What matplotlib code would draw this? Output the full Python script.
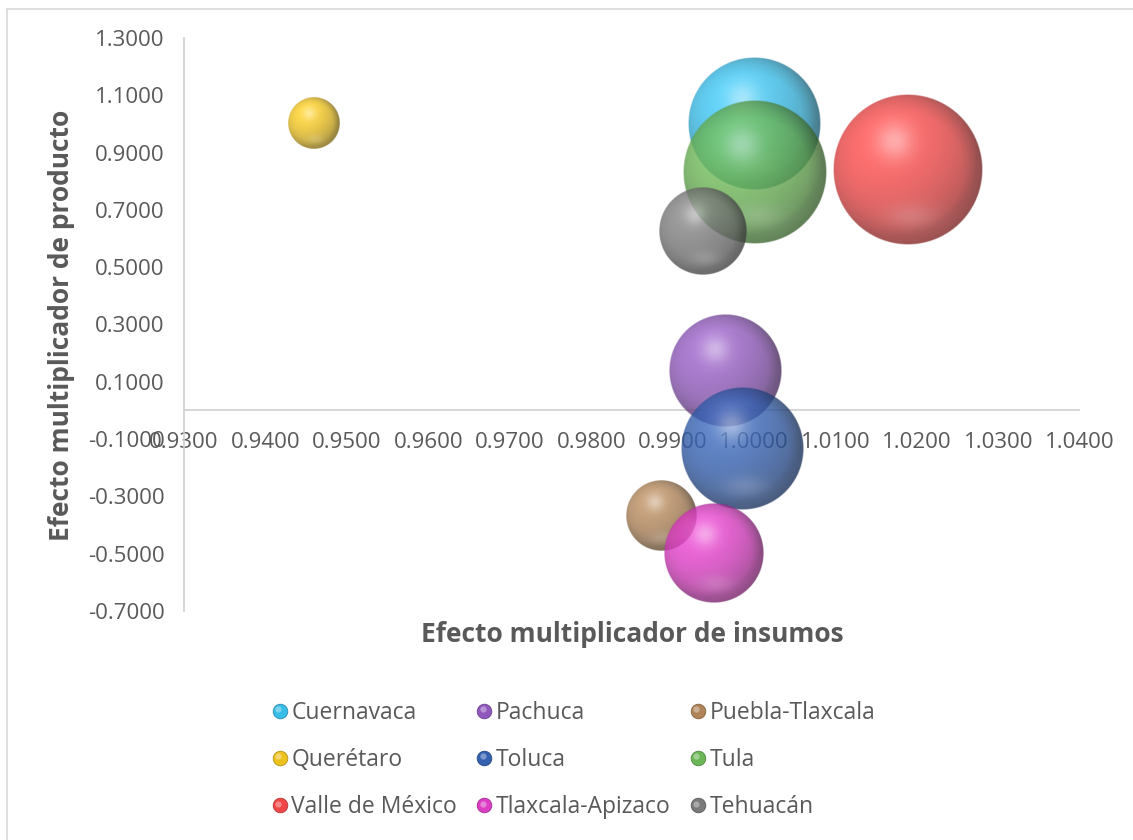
import numpy as np
import matplotlib
matplotlib.use("Agg")
import matplotlib.pyplot as plt
from matplotlib.lines import Line2D
from matplotlib.legend_handler import HandlerBase
from matplotlib.colors import to_rgb

# ---- data -------------------------------------------------------------
zonas = ["Cuernavaca", "Pachuca", "Puebla-Tlaxcala", "Querétaro", "Toluca",
         "Tula", "Valle de México", "Tlaxcala-Apizaco", "Tehuacán"]
efecto_insumos = [1.0000, 0.9964, 0.9886, 0.9459, 0.9986,
                  1.0000, 1.0189, 0.9951, 0.9937]
efecto_producto = [1.0016, 0.1390, -0.3650, 1.0000, -0.1346,
                   0.8305, 0.8390, -0.4990, 0.6280]
tamano = [78.6, 55.8, 22.4, 11.6, 67.2, 90.9, 100.0, 44.4, 34.4]
colores = ["#38BCE8", "#9058BC", "#B08458", "#EEC21E", "#3460B0",
           "#6CB656", "#F04646", "#DC3CC4", "#7A7A7A"]

x_ticks = [0.93, 0.94, 0.95, 0.96, 0.97, 0.98, 0.99, 1.00, 1.01, 1.02, 1.03, 1.04]
y_ticks = [1.3, 1.1, 0.9, 0.7, 0.5, 0.3, 0.1, -0.1, -0.3, -0.5, -0.7]

TXT = "#595959"
LINE = "#D0D0D0"
FONT = "Open Sans"
TICK_FS = 16

W, H, DPI = 1133, 840, 100
fig = plt.figure(figsize=(W / DPI, H / DPI), dpi=DPI)
ax = fig.add_axes([184 / W, 1 - 611 / H, (1080 - 184) / W, (611 - 38) / H])
ax.set_xlim(0.93, 1.04)
ax.set_ylim(-0.7, 1.3)

# axes: vertical axis at the left, horizontal axis crossing at y = 0
for s in ["top", "right", "bottom"]:
    ax.spines[s].set_visible(False)
ax.spines["left"].set_color(LINE)
ax.spines["left"].set_linewidth(1.2)
ax.axhline(0, color=LINE, lw=1.2, zorder=1)
ax.tick_params(length=0)
ax.set_yticks(y_ticks)
ax.set_yticklabels([f"{v:.4f}" for v in y_ticks], fontsize=TICK_FS,
                   color=TXT, family=FONT)
ax.tick_params(axis="y", pad=14)
ax.set_xticks([])
for v in x_ticks:
    ax.text(v, -0.112, f"{v:.4f}", ha="center", va="center",
            fontsize=TICK_FS, color=TXT, family=FONT, zorder=2)

fig.text(632 / W, 1 - 635 / H, "Efecto multiplicador de insumos",
         ha="center", va="center", fontsize=19, fontweight="bold",
         color=TXT, family=FONT)
fig.text(62 / W, 1 - 325 / H, "Efecto multiplicador de producto",
         ha="center", va="center", rotation=90, fontsize=19,
         fontweight="bold", color=TXT, family=FONT)


def sphere_image(color, n=220, alpha=0.8):
    """RGBA image of a glossy shaded ball."""
    base = np.array(to_rgb(color))
    lin = np.linspace(-1, 1, n)
    u, v = np.meshgrid(lin, -lin)
    r2 = u ** 2 + v ** 2
    inside = r2 <= 1.0
    z = np.sqrt(np.clip(1 - r2, 0, 1))
    L = np.array([-0.35, 0.45, 0.82])
    L = L / np.linalg.norm(L)
    diff = np.clip(u * L[0] + v * L[1] + z * L[2], 0, 1)
    shade = 0.66 + 0.42 * diff
    rgb = base[None, None, :] * shade[..., None]
    # soft highlight on the upper left
    hl = np.exp(-(((u + 0.18) ** 2) + ((v - 0.38) ** 2)) / 0.06)
    rgb = rgb + (1 - rgb) * (0.42 * hl)[..., None]
    # faint reflection near the lower rim
    rf = np.exp(-(((u - 0.05) ** 2) / 0.12 + ((v + 0.62) ** 2) / 0.03))
    rgb = rgb + (1 - rgb) * (0.16 * rf)[..., None]
    # darker rim on the right side
    rim = np.clip(r2 - 0.55, 0, 1) / 0.45
    rgb = rgb * (1 - 0.28 * rim * np.clip(0.5 + 0.5 * u, 0, 1))[..., None]
    rgb = np.clip(rgb, 0, 1)
    # antialiased edge
    edge = np.clip((1 - np.sqrt(r2)) * n / 2.0, 0, 1)
    a = alpha * edge * inside
    return np.dstack([rgb, a])


# bubbles: area proportional to size, largest radius in pixels
R_MAX = 75.0
smax = max(tamano)
fig.canvas.draw()
inv = ax.transData.inverted()
for i, (xv, yv, s, c) in enumerate(zip(efecto_insumos, efecto_producto,
                                       tamano, colores)):
    cx, cy = ax.transData.transform((xv, yv))
    r = R_MAX * np.sqrt(s / smax)
    (x0, y0) = inv.transform((cx - r, cy - r))
    (x1, y1) = inv.transform((cx + r, cy + r))
    ax.imshow(sphere_image(c), extent=[x0, x1, y0, y1], aspect="auto",
              interpolation="bilinear", zorder=3 + i)
ax.set_xlim(0.93, 1.04)
ax.set_ylim(-0.7, 1.3)


class BallHandler(HandlerBase):
    def create_artists(self, legend, orig_handle, xdescent, ydescent,
                       width, height, fontsize, trans):
        c = orig_handle.get_color()
        cx = width - 6
        cy = height / 2 - ydescent
        base = Line2D([cx], [cy], marker="o", markersize=10.5, color=c,
                      markeredgecolor=tuple(0.75 * np.array(to_rgb(c))),
                      markeredgewidth=0.6, linestyle="none", transform=trans)
        light = tuple(np.array(to_rgb(c)) + (1 - np.array(to_rgb(c))) * 0.45)
        hi = Line2D([cx - 1.2], [cy + 1.2], marker="o", markersize=4.5,
                    color=light, markeredgewidth=0, alpha=0.8,
                    linestyle="none", transform=trans)
        return [base, hi]


# legend filled row by row (three per row)
orden = [0, 3, 6, 1, 4, 7, 2, 5, 8]
handles = [Line2D([], [], color=colores[k]) for k in orden]
labels = [zonas[k] for k in orden]
leg = fig.legend(handles, labels, loc="center", ncol=3,
                 bbox_to_anchor=(572 / W, 1 - 760 / H),
                 frameon=False, handler_map={Line2D: BallHandler()},
                 handlelength=0.85, handletextpad=0.15, columnspacing=0.7,
                 labelspacing=1.02,
                 prop={"family": FONT, "size": 16.5})
for t in leg.get_texts():
    t.set_color(TXT)

# light frame of the chart area
fig.add_artist(Line2D([7 / W, 1], [1 - 9 / H, 1 - 9 / H], color="#D9D9D9",
                      lw=1.2, transform=fig.transFigure))
fig.add_artist(Line2D([7 / W, 7 / W], [0, 1 - 9 / H], color="#D9D9D9",
                      lw=1.2, transform=fig.transFigure))

fig.savefig("out.png", dpi=DPI)
